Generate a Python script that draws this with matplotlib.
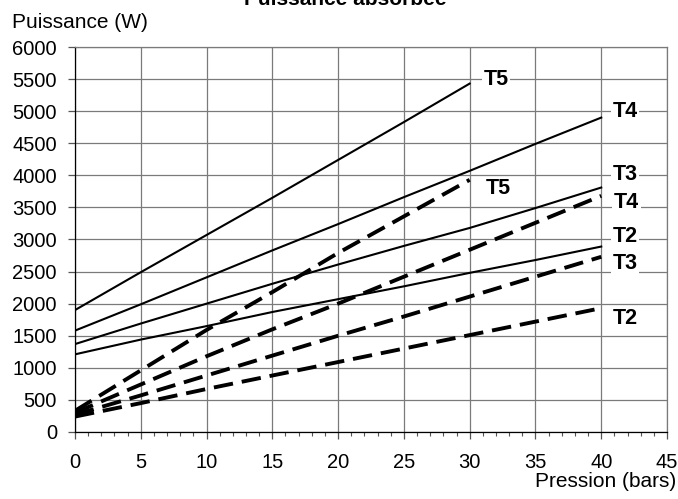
import matplotlib
matplotlib.use("Agg")
import matplotlib.pyplot as plt
from matplotlib.ticker import MultipleLocator

plt.rcParams["font.family"] = ["Liberation Sans", "DejaVu Sans"]

# pression (bars)
pression = [0, 5, 10, 15, 20, 25, 30, 35, 40]

# puissance (W) - traits pleins
plein_T5 = [1900, 2490, 3070, 3650, 4240, 4830, 5430]
plein_T4 = [1580, 1990, 2410, 2830, 3240, 3660, 4070, 4490, 4900]
plein_T3 = [1370, 1690, 2000, 2310, 2610, 2900, 3180, 3490, 3810]
plein_T2 = [1210, 1440, 1650, 1870, 2070, 2270, 2480, 2680, 2890]

# puissance (W) - pointillés
tiret_T5 = [330, 960, 1590, 2180, 2790, 3360, 3930]
tiret_T4 = [300, 740, 1180, 1600, 2000, 2420, 2840, 3260, 3680]
tiret_T3 = [270, 570, 880, 1190, 1500, 1800, 2110, 2420, 2730]
tiret_T2 = [240, 450, 670, 880, 1090, 1300, 1510, 1720, 1930]

# étiquettes : (texte, x, y)
etiquettes = [
    ("T5", 32.0, 5490),
    ("T4", 41.8, 4990),
    ("T3", 41.8, 4020),
    ("T4", 41.9, 3570),
    ("T2", 41.8, 3040),
    ("T3", 41.8, 2620),
    ("T2", 41.8, 1770),
    ("T5", 32.2, 3790),
]

fig = plt.figure(figsize=(6.78, 4.99), dpi=100)
ax = fig.add_axes([0.1106, 0.1343, 0.8732, 0.7715])

for serie in (plein_T5, plein_T4, plein_T3, plein_T2):
    ax.plot(pression[:len(serie)], serie, color="black", lw=1.5, zorder=3)
for serie in (tiret_T5, tiret_T4, tiret_T3, tiret_T2):
    ax.plot(pression[:len(serie)], serie, color="black", lw=2.8,
            dashes=(5, 2.3), zorder=3)

for texte, x, y in etiquettes:
    ax.text(x, y, texte, fontsize=15.5, fontweight="bold", ha="center",
            va="center", zorder=2,
            bbox=dict(facecolor="white", edgecolor="none", pad=1.2))

ax.set_xlim(0, 45)
ax.set_ylim(0, 6000)
ax.xaxis.set_major_locator(MultipleLocator(5))
ax.xaxis.set_minor_locator(MultipleLocator(1))
ax.yaxis.set_major_locator(MultipleLocator(500))
ax.grid(True, which="major", color="#7a7a7a", lw=0.9, zorder=1)
ax.set_axisbelow(True)

for side in ("top", "right"):
    ax.spines[side].set_color("#7a7a7a")
    ax.spines[side].set_linewidth(0.9)
for side in ("left", "bottom"):
    ax.spines[side].set_color("black")
    ax.spines[side].set_linewidth(0.9)

ax.tick_params(axis="both", which="major", labelsize=14.5, direction="out",
               length=5, width=0.9, color="#555555")
ax.tick_params(axis="y", which="major", pad=8)
ax.tick_params(axis="x", which="major", pad=10)
ax.tick_params(axis="x", which="minor", direction="out", length=3,
               width=0.8, color="#555555")

fig.text(0.51, 0.99, "Puissance absorbée", ha="center", va="baseline",
         fontsize=15, fontweight="bold")
fig.text(0.018, 0.955, "Puissance (W)", ha="left", va="center", fontsize=15)
fig.text(0.998, 0.035, "Pression (bars)", ha="right", va="center", fontsize=15)

fig.savefig("out.png", dpi=100)
